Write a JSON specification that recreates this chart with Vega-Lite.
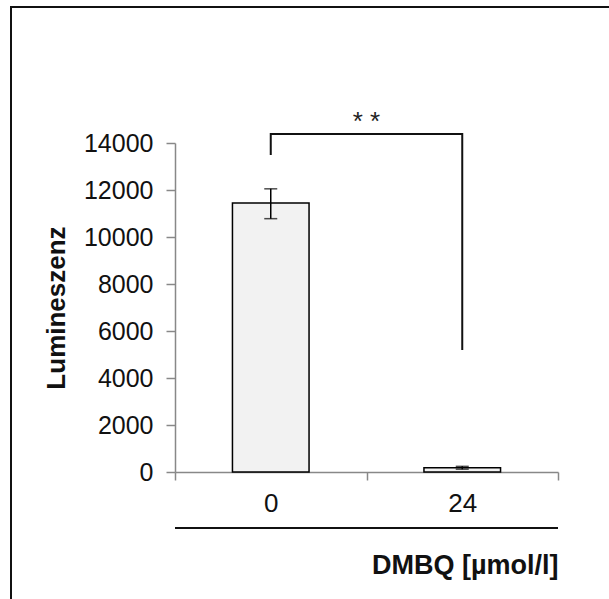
{
  "$schema": "https://vega.github.io/schema/vega-lite/v6.json",
  "width": 383,
  "height": 329,
  "autosize": "none",
  "padding": {"left": 175, "top": 143, "right": 51, "bottom": 127},
  "background": "white",
  "config": {"view": {"stroke": null}, "font": "Liberation Sans"},
  "datasets": {
    "bars": [
      {"dmbq": "0", "lum": 11450, "lo": 10780, "hi": 12050},
      {"dmbq": "24", "lum": 180, "lo": 120, "hi": 240}
    ],
    "bracket": [
      {"dmbq": "0", "y": 13490, "o": 1},
      {"dmbq": "0", "y": 14383, "o": 2},
      {"dmbq": "24", "y": 14383, "o": 3},
      {"dmbq": "24", "y": 5190, "o": 4}
    ],
    "sig": [{"dmbq": "0", "y": 14880, "label": "* *"}],
    "frame": [{"a": 0, "b": 1, "top": 19787, "bottom": -30000}],
    "catline": [{"y": -2383}]
  },
  "resolve": {"scale": {"x": "independent", "y": "independent"}, "axis": {"x": "independent", "y": "independent"}},
  "layer": [
    {
      "data": {"name": "frame"},
      "mark": {"type": "rect", "filled": false, "stroke": "#111111", "strokeWidth": 2},
      "encoding": {
        "x": {"field": "a", "type": "quantitative", "scale": {"domain": [0, 1], "range": [-164, 500]}, "axis": null},
        "x2": {"field": "b"},
        "y": {"field": "top", "type": "quantitative", "scale": {"domain": [0, 14000], "nice": false}, "axis": null},
        "y2": {"field": "bottom"}
      }
    },
    {
      "data": {"name": "bars"},
      "layer": [
        {
          "mark": {"type": "bar", "fill": "#f2f2f2", "stroke": "#000000", "strokeWidth": 1.5, "width": {"band": 0.4}},
          "encoding": {
            "x": {
              "field": "dmbq", "type": "nominal", "sort": null,
              "scale": {"domain": ["0", "24"], "paddingInner": 0, "paddingOuter": 0},
              "axis": {
                "title": "DMBQ [µmol/l]", "titleAnchor": "end", "titleFontSize": 27, "titleFontWeight": "bold",
                "titleColor": "#111111", "titlePadding": 36,
                "labelAngle": 0, "labelFontSize": 26, "labelColor": "#111111", "labelPadding": 10,
                "tickBand": "extent", "tickSize": 8, "tickColor": "#888888", "domainColor": "#888888",
                "tickWidth": 1.5, "domainWidth": 1.5
              }
            },
            "y": {
              "field": "lum", "type": "quantitative",
              "scale": {"domain": [0, 14000], "nice": false},
              "axis": {
                "title": "Lumineszenz", "titleFontSize": 26, "titleFontWeight": "bold", "titleColor": "#111111",
                "titlePadding": 14,
                "values": [0, 2000, 4000, 6000, 8000, 10000, 12000, 14000],
                "format": "d", "grid": false,
                "labelFontSize": 25, "labelColor": "#111111", "labelPadding": 13,
                "tickSize": 9, "tickColor": "#888888", "domainColor": "#888888",
                "tickWidth": 1.5, "domainWidth": 1.5
              }
            }
          }
        },
        {
          "mark": {"type": "rule", "color": "#000000", "strokeWidth": 1.5},
          "encoding": {
            "x": {"field": "dmbq", "type": "nominal", "sort": null},
            "y": {"field": "lo", "type": "quantitative"},
            "y2": {"field": "hi"}
          }
        },
        {
          "mark": {"type": "tick", "color": "#000000", "size": 13, "thickness": 1.5, "orient": "horizontal"},
          "encoding": {
            "x": {"field": "dmbq", "type": "nominal", "sort": null},
            "y": {"field": "lo", "type": "quantitative"}
          }
        },
        {
          "mark": {"type": "tick", "color": "#000000", "size": 13, "thickness": 1.5, "orient": "horizontal"},
          "encoding": {
            "x": {"field": "dmbq", "type": "nominal", "sort": null},
            "y": {"field": "hi", "type": "quantitative"}
          }
        },
        {
          "data": {"name": "bracket"},
          "mark": {"type": "line", "color": "#111111", "strokeWidth": 2, "strokeCap": "butt", "strokeJoin": "miter"},
          "encoding": {
            "x": {"field": "dmbq", "type": "nominal", "sort": null},
            "y": {"field": "y", "type": "quantitative"},
            "order": {"field": "o"}
          }
        },
        {
          "data": {"name": "sig"},
          "mark": {"type": "text", "fontSize": 26, "color": "#222222", "baseline": "middle", "align": "center"},
          "encoding": {
            "x": {"field": "dmbq", "type": "nominal", "sort": null, "bandPosition": 1},
            "y": {"field": "y", "type": "quantitative"},
            "text": {"field": "label"}
          }
        },
        {
          "data": {"name": "catline"},
          "mark": {"type": "rule", "color": "#111111", "strokeWidth": 2},
          "encoding": {
            "y": {"field": "y", "type": "quantitative"}
          }
        }
      ]
    }
  ]
}
